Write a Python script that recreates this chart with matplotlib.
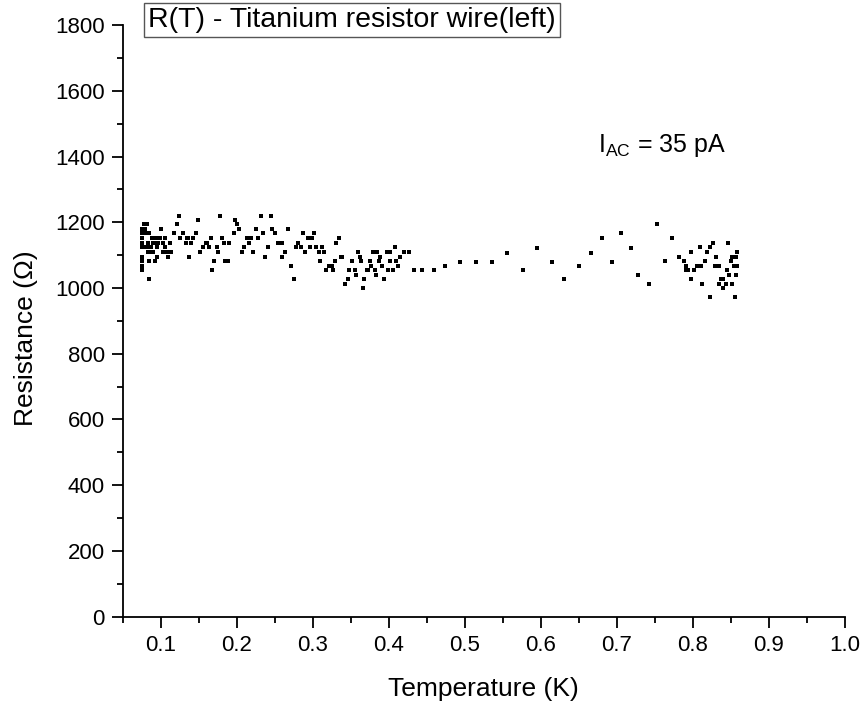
import matplotlib
matplotlib.use("Agg")
import matplotlib.pyplot as plt
from matplotlib.ticker import MultipleLocator

# ---- data (Temperature in K, Resistance in Ohm) ----
T_low = [0.124, 0.178, 0.232, 0.245,
         0.149, 0.198,
         0.078, 0.082, 0.121, 0.201,
         0.075, 0.079, 0.100, 0.203, 0.225, 0.247, 0.268,
         0.075, 0.080, 0.085, 0.117, 0.129, 0.146, 0.196, 0.235, 0.250, 0.287, 0.302,
         0.075, 0.089, 0.092, 0.095, 0.099, 0.106, 0.126, 0.134, 0.136, 0.143, 0.166, 0.181, 0.213, 0.219, 0.228, 0.294, 0.299, 0.334,
         0.075, 0.083, 0.090, 0.093, 0.097, 0.103, 0.112, 0.133, 0.140, 0.159, 0.161, 0.183, 0.190, 0.216, 0.254, 0.259, 0.281, 0.331,
         0.075, 0.078, 0.082, 0.087, 0.095, 0.106, 0.156, 0.164, 0.174, 0.209, 0.241, 0.278, 0.284, 0.296, 0.304, 0.312, 0.408,
         0.083, 0.088, 0.090, 0.103, 0.106, 0.110, 0.113, 0.152, 0.175, 0.207, 0.222, 0.263, 0.290, 0.308, 0.315, 0.359, 0.379, 0.385, 0.398, 0.401, 0.420, 0.426,
         0.075, 0.095, 0.110, 0.137, 0.237, 0.260, 0.337, 0.339, 0.362, 0.388, 0.415,
         0.075, 0.085, 0.092, 0.170, 0.185, 0.188, 0.310, 0.329, 0.351, 0.364, 0.375, 0.387, 0.401, 0.410,
         0.075, 0.272, 0.322, 0.325, 0.376, 0.391, 0.412, 0.474,
         0.075, 0.167, 0.317, 0.326, 0.348, 0.355, 0.371, 0.373, 0.382, 0.399, 0.405, 0.433, 0.444, 0.459,
         0.357, 0.383,
         0.085, 0.275, 0.394, 0.346, 0.368,
         0.343,
         0.366]
R_low = [1220] * 4 + [1207] * 2 + [1194] * 4 + [1180] * 7 + [1166] * 11 + [1152] * 18 + \
        [1138] * 18 + [1124] * 17 + [1110] * 22 + [1095] * 11 + [1081] * 14 + [1067] * 8 + \
        [1054] * 14 + [1040] * 2 + [1027] * 5 + [1013] * 1 + [999] * 1

T_mid = [0.494, 0.515, 0.536, 0.556, 0.576, 0.595, 0.615, 0.631, 0.650, 0.666,
         0.681, 0.693, 0.705, 0.718, 0.728]
R_mid = [1080, 1080, 1080, 1108, 1054, 1122, 1080, 1027, 1067, 1108,
         1152, 1080, 1166, 1122, 1040]

T_high = [0.753, 0.773, 0.763, 0.742, 0.782, 0.788, 0.791, 0.794, 0.791, 0.798,
          0.802, 0.805, 0.809, 0.811, 0.816, 0.798, 0.812, 0.819, 0.823, 0.826,
          0.831, 0.829, 0.834, 0.822, 0.846, 0.837, 0.840, 0.834, 0.843, 0.840,
          0.845, 0.848, 0.850, 0.852, 0.857, 0.858, 0.854, 0.858, 0.857, 0.852, 0.855]
R_high = [1194, 1152, 1081, 1013, 1095, 1081, 1067, 1054, 1054, 1110,
          1054, 1067, 1124, 1067, 1081, 1027, 1013, 1110, 1124, 1138,
          1095, 1067, 1067, 972, 1138, 1027, 1027, 1013, 1013, 999,
          1054, 1040, 1081, 1095, 1095, 1110, 1067, 1067, 1040, 1013, 972]

temperature = T_low + T_mid + T_high
resistance = R_low + R_mid + R_high

x_ticks = [0.1, 0.2, 0.3, 0.4, 0.5, 0.6, 0.7, 0.8, 0.9, 1.0]
y_ticks = [0, 200, 400, 600, 800, 1000, 1200, 1400, 1600, 1800]

title_text = "R(T) - Titanium resistor wire(left)"
x_label = "Temperature (K)"
y_label = "Resistance (\u03a9)"

plt.rcParams['font.family'] = ['Liberation Sans', 'DejaVu Sans']
plt.rcParams['mathtext.fontset'] = 'custom'
plt.rcParams['mathtext.rm'] = 'Liberation Sans'
plt.rcParams['mathtext.it'] = 'Liberation Sans'

fig = plt.figure(figsize=(8.64, 7.05), dpi=100)
ax = fig.add_axes([0.142, 0.1252, 0.836, 0.8393])

ax.scatter(temperature, resistance, marker='s', s=11, color='black', linewidths=0)

ax.set_xlim(0.05, 1.0)
ax.set_ylim(0, 1800)
ax.set_xticks(x_ticks)
ax.set_xticklabels([f"{v:.1f}" for v in x_ticks])
ax.set_yticks(y_ticks)
ax.set_yticklabels([str(v) for v in y_ticks])
ax.xaxis.set_minor_locator(MultipleLocator(0.05))
ax.yaxis.set_minor_locator(MultipleLocator(100))

for s in ['top', 'right']:
    ax.spines[s].set_visible(False)
for s in ['left', 'bottom']:
    ax.spines[s].set_linewidth(1.3)

ax.tick_params(which='major', direction='out', length=8, width=1.3, labelsize=16, pad=5)
ax.tick_params(which='minor', direction='out', length=4.5, width=1.3)

ax.set_xlabel(x_label, fontsize=19, labelpad=15)
ax.set_ylabel(y_label, fontsize=19, labelpad=8)
ax.yaxis.set_label_coords(-0.117, 0.47)

fig.text(0.407, 0.9716, title_text, fontsize=20.5, ha='center', va='center',
         bbox=dict(boxstyle='square,pad=0.15', facecolor='white', edgecolor='#555555', linewidth=1.0))

fig.text(0.692, 0.785, r"I$_{\mathrm{AC}}$ = 35 pA", fontsize=18, ha='left', va='baseline')

fig.savefig("out.png", dpi=100)
